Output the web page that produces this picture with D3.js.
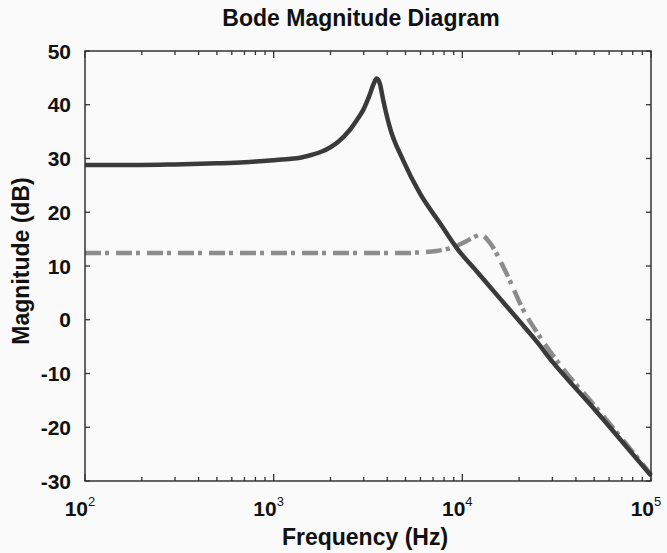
<!DOCTYPE html>
<html>
<head>
<meta charset="utf-8">
<script src="https://cdn.jsdelivr.net/npm/d3@7"></script>
<style>
  body { margin: 0; background: #fafafa; }
  svg { display: block; }
  text { font-family: "Liberation Sans", Arial, sans-serif; font-weight: bold; fill: #111; }
</style>
</head>
<body>
<svg class="bode"></svg>
<script>
const width = 667;
const height = 553;

// data
const freqMain = [100, 200, 300, 500, 700, 918, 1200, 1400, 1600, 1800, 2000, 2200, 2530, 2800, 2980, 3200, 3400, 3510, 3650, 3800, 4120, 4850, 5960, 7600, 9500, 12000, 15000, 20000, 25000, 30000, 40000, 50000, 70000, 100000];
const magMain = [28.8, 28.8, 28.9, 29.1, 29.3, 29.6, 29.9, 30.2, 30.7, 31.3, 32.1, 33.1, 35.3, 37.5, 39.0, 41.5, 44.0, 44.9, 44.0, 41.0, 35.9, 29.7, 23.5, 18.0, 13.0, 8.9, 4.9, -0.2, -4.2, -7.8, -12.8, -16.6, -22.6, -29.0];

const freqComp = [100, 1000, 3000, 5000, 5700, 7300, 8600, 10500, 11400, 12600, 14000, 17100, 21000, 25700, 34300, 49200, 70000, 100000];
const magComp = [12.4, 12.4, 12.4, 12.4, 12.5, 12.8, 13.3, 14.6, 15.3, 15.8, 14.3, 8.7, 1.9, -3.1, -9.2, -15.6, -22.1, -28.8];

const yTicks = [50, 40, 30, 20, 10, 0, -10, -20, -30];
const xDecades = [100, 1000, 10000, 100000];
const xExponents = ['2', '3', '4', '5'];

const margin = { top: 51, right: 16, bottom: 72, left: 85 };
const innerWidth = width - margin.left - margin.right;
const innerHeight = height - margin.top - margin.bottom;

const svg = d3.select('svg.bode')
	.attr('width', width)
	.attr('height', height);

svg.append('rect')
	.attr('width', width)
	.attr('height', height)
	.attr('fill', '#fafafa');

const x = d3.scaleLog().domain([100, 100000]).range([0, innerWidth]);
const y = d3.scaleLinear().domain([-30, 50]).range([innerHeight, 0]);

const g = svg.append('g')
	.attr('transform', `translate(${margin.left}, ${margin.top})`);

// minor + major x ticks, pointing inward on top and bottom
const minorTicks = [];
for (let d = 100; d < 100000; d *= 10) {
	for (let k = 2; k <= 9; k++) minorTicks.push(d * k);
}

const axisColor = '#333';

const drawXTicks = (vals, len) => {
	g.selectAll(null).data(vals).enter().append('line')
		.attr('x1', d => x(d)).attr('x2', d => x(d))
		.attr('y1', innerHeight).attr('y2', innerHeight - len)
		.attr('stroke', axisColor).attr('stroke-width', 1.3);
	g.selectAll(null).data(vals).enter().append('line')
		.attr('x1', d => x(d)).attr('x2', d => x(d))
		.attr('y1', 0).attr('y2', len)
		.attr('stroke', axisColor).attr('stroke-width', 1.3);
};
drawXTicks(minorTicks, 4);
drawXTicks(xDecades, 7);

g.selectAll(null).data(yTicks).enter().append('line')
	.attr('x1', 0).attr('x2', 5)
	.attr('y1', d => y(d)).attr('y2', d => y(d))
	.attr('stroke', axisColor).attr('stroke-width', 1.3);
g.selectAll(null).data(yTicks).enter().append('line')
	.attr('x1', innerWidth).attr('x2', innerWidth - 5)
	.attr('y1', d => y(d)).attr('y2', d => y(d))
	.attr('stroke', axisColor).attr('stroke-width', 1.3);

// y labels
g.selectAll(null).data(yTicks).enter().append('text')
	.attr('x', -14)
	.attr('y', d => y(d) + 7.5)
	.attr('text-anchor', 'end')
	.style('font-size', '21px')
	.text(d => d);

// x labels 10^n: base and exponent as separate texts
g.selectAll(null).data(xDecades).enter().append('text')
	.attr('x', d => x(d) + 3)
	.attr('y', innerHeight + 35)
	.attr('text-anchor', 'end')
	.style('font-size', '21px')
	.text('10');
g.selectAll(null).data(xDecades).enter().append('text')
	.attr('x', d => x(d) + 3)
	.attr('y', innerHeight + 25)
	.style('font-size', '13px')
	.style('font-weight', 'normal')
	.text((d, i) => xExponents[i]);

const line = d3.line()
	.x(d => x(d[0]))
	.y(d => y(d[1]))
	.curve(d3.curveMonotoneX);

g.append('path')
	.datum(freqComp.map((f, i) => [f, magComp[i]]))
	.attr('fill', 'none')
	.attr('stroke', '#8c8c8c')
	.attr('stroke-width', 4.5)
	.attr('stroke-dasharray', '16,4,4,7')
	.attr('d', line);

g.append('path')
	.datum(freqMain.map((f, i) => [f, magMain[i]]))
	.attr('fill', 'none')
	.attr('stroke', '#3a3a3a')
	.attr('stroke-width', 4.5)
	.attr('stroke-linejoin', 'round')
	.attr('d', line);

// frame
g.append('rect')
	.attr('width', innerWidth)
	.attr('height', innerHeight)
	.attr('fill', 'none')
	.attr('stroke', axisColor)
	.attr('stroke-width', 1.5);

// titles
svg.append('text')
	.attr('x', 361)
	.attr('y', 26)
	.attr('text-anchor', 'middle')
	.style('font-size', '23px')
	.text('Bode Magnitude Diagram');

svg.append('text')
	.attr('x', 365)
	.attr('y', 545)
	.attr('text-anchor', 'middle')
	.style('font-size', '23px')
	.text('Frequency  (Hz)');

svg.append('text')
	.attr('transform', `translate(29, 261) rotate(-90)`)
	.attr('text-anchor', 'middle')
	.style('font-size', '23px')
	.text('Magnitude (dB)');
</script>
</body>
</html>
